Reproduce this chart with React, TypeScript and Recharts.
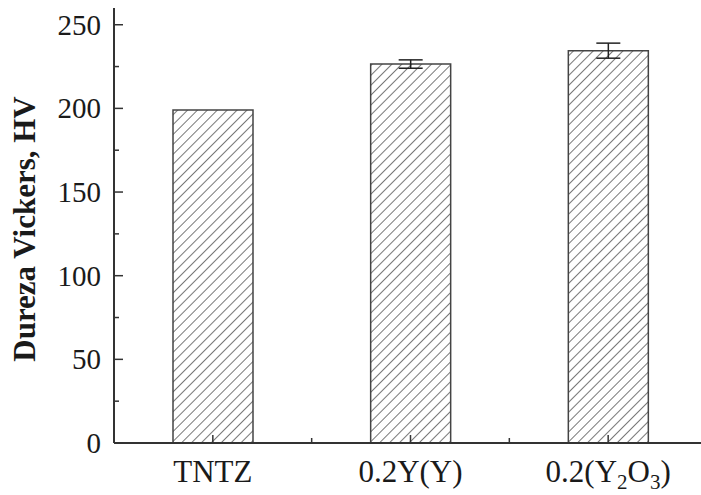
import React from "react";
import { BarChart, Bar, XAxis, YAxis, ErrorBar } from "recharts";

const categories = ["TNTZ", "0.2Y(Y)", "0.2(Y2O3)"];
const hardness = [199, 226.5, 234.5];
const hardnessErr = [0, 2.5, 4.5];

const yTicks = [0, 25, 50, 75, 100, 125, 150, 175, 200, 225, 250];
const xTicks = [-0.5, 0, 0.5, 1, 1.5, 2, 2.5];

const data = categories.map((name, i) => ({
  pos: i,
  name,
  hv: hardness[i],
  err: hardnessErr[i],
}));

const AXIS = "#333";
const TEXT = "#1a1a1a";
const FONT = "'Liberation Serif', 'Times New Roman', serif";

function CategoryLabel({ name, x, y }: { name: string; x: number; y: number }) {
  if (name === "0.2(Y2O3)") {
    return (
      <text x={x} y={y} textAnchor="middle" fontFamily={FONT} fontSize={31} fill={TEXT}>
        0.2(Y
        <tspan dy={7} fontSize={21}>2</tspan>
        <tspan dy={-7}>O</tspan>
        <tspan dy={7} fontSize={21}>3</tspan>
        <tspan dy={-7}>)</tspan>
      </text>
    );
  }
  return (
    <text x={x} y={y} textAnchor="middle" fontFamily={FONT} fontSize={31} fill={TEXT}>
      {name}
    </text>
  );
}

function BottomTick(props: any) {
  const { x, y, payload } = props;
  const v = payload.value;
  const major = Number.isInteger(v);
  if (v === -0.5 || v === 2.5) return <g />;
  return (
    <g>
      <line x1={x} x2={x} y1={y} y2={y - (major ? 8 : 5)} stroke={AXIS} strokeWidth={1.5} />
      {major && <CategoryLabel name={categories[v]} x={x} y={y + 39} />}
    </g>
  );
}

function TopTick(props: any) {
  const { x, y, payload } = props;
  const v = payload.value;
  if (v === -0.5 || v === 2.5) return <g />;
  const major = Number.isInteger(v);
  return <line x1={x} x2={x} y1={y} y2={y + (major ? 8 : 5)} stroke={AXIS} strokeWidth={1.5} />;
}

function LeftTick(props: any) {
  const { x, y, payload } = props;
  const major = payload.value % 50 === 0;
  return (
    <g>
      <line x1={x} x2={x + (major ? 9 : 5)} y1={y} y2={y} stroke={AXIS} strokeWidth={1.5} />
      {major && (
        <text x={x - 13} y={y} dy={10} textAnchor="end" fontFamily={FONT} fontSize={29} fill={TEXT}>
          {payload.value}
        </text>
      )}
    </g>
  );
}

function RightTick(props: any) {
  const { x, y, payload } = props;
  const major = payload.value % 50 === 0;
  return <line x1={x} x2={x - (major ? 9 : 5)} y1={y} y2={y} stroke={AXIS} strokeWidth={1.5} />;
}

export default function App() {
  return (
    <div style={{ position: "fixed", left: 0, top: 0, width: 701, height: 495, overflow: "hidden", background: "#fff" }}>
      <svg width={0} height={0} style={{ position: "absolute" }}>
        <defs>
          <pattern id="hatch" width={7} height={7} patternUnits="userSpaceOnUse" patternTransform="rotate(45)">
            <rect width={7} height={7} fill="#fff" />
            <line x1={0} y1={0} x2={0} y2={7} stroke="#555" strokeWidth={1.6} />
          </pattern>
        </defs>
      </svg>
      <BarChart width={710} height={495} data={data} margin={{ top: 8, right: 3, bottom: 0, left: 0 }}>
        <XAxis
          xAxisId="x"
          dataKey="pos"
          type="number"
          domain={[-0.5, 2.5]}
          ticks={xTicks}
          interval={0}
          height={52}
          tickSize={0}
          tickMargin={0}
          tick={<BottomTick />}
          axisLine={{ stroke: AXIS, strokeWidth: 2 }}
          allowDataOverflow
        />
        <XAxis
          xAxisId="top"
          orientation="top"
          dataKey="pos"
          type="number"
          domain={[-0.5, 2.5]}
          ticks={xTicks}
          interval={0}
          height={0}
          tickSize={0}
          tickMargin={0}
          tick={<TopTick />}
          axisLine={{ stroke: AXIS, strokeWidth: 2 }}
          allowDataOverflow
        />
        <YAxis
          yAxisId="y"
          type="number"
          domain={[0, 260]}
          ticks={yTicks}
          interval={0}
          width={114}
          tickSize={0}
          tickMargin={0}
          tick={<LeftTick />}
          axisLine={{ stroke: AXIS, strokeWidth: 2 }}
          label={{
            content: () => (
              <text
                x={35}
                y={229}
                transform="rotate(-90 35 229)"
                textAnchor="middle"
                fontFamily={FONT}
                fontWeight="bold"
                fontSize={31}
                fill={TEXT}
              >
                Dureza Vickers, HV
              </text>
            ),
          }}
        />
        <YAxis
          yAxisId="r"
          orientation="right"
          type="number"
          domain={[0, 260]}
          ticks={yTicks}
          interval={0}
          width={0}
          tickSize={0}
          tickMargin={0}
          tick={<RightTick />}
          axisLine={{ stroke: AXIS, strokeWidth: 2 }}
        />
        <Bar
          xAxisId="x"
          yAxisId="y"
          dataKey="hv"
          barSize={80}
          fill="url(#hatch)"
          stroke="#444"
          strokeWidth={1.5}
          isAnimationActive={false}
        >
          <ErrorBar dataKey="err" direction="y" width={12} stroke="#222" strokeWidth={1.5} />
        </Bar>
      </BarChart>
    </div>
  );
}
